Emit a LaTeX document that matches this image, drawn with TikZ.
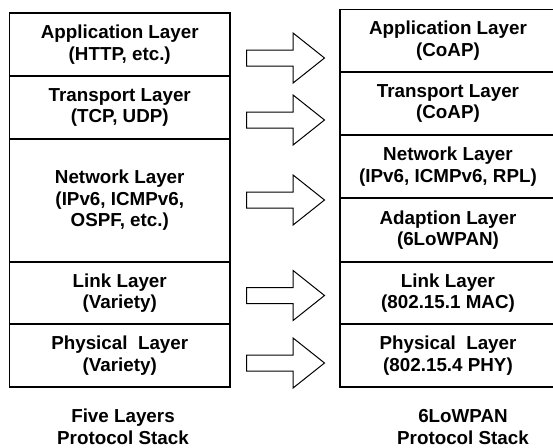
\documentclass[tikz,border=0pt]{standalone}
\usepackage{fontspec}
\setmainfont{Liberation Sans}
\usetikzlibrary{shapes,positioning}

\tikzset{
	layer/.style={draw, line width=1.2pt, inner sep=0pt, align=center, font=\bfseries\fontsize{18.8}{21.5}\selectfont},
	stack5/.style={layer, minimum width=220.5pt},
	stack6/.style={layer, minimum width=216pt},
	caption/.style={align=center, font=\bfseries\fontsize{18.8}{21.5}\selectfont},
	blockarrow/.style={draw, line width=1pt, shape=single arrow, anchor=tail, inner xsep=0pt, inner ysep=7.5pt, minimum height=78pt, single arrow head extend=17pt, single arrow tip angle=77}
}

\begin{document}
\begin{tikzpicture}[x=1pt, y=-1pt]
	\useasboundingbox (0,0) rectangle (553,447);
	% five layers stack
	\node (app5) [stack5, minimum height=63pt] at (119.75,44.5) {Application Layer\\(HTTP, etc.)};
	\node (trans5) [stack5, minimum height=63pt] at (119.75,107.5) {Transport Layer\\(TCP, UDP)};
	\node (net5) [stack5, minimum height=123pt] at (119.75,200.5) {Network Layer\\(IPv6, ICMPv6,\\OSPF, etc.)};
	\node (link5) [stack5, minimum height=62pt] at (119.75,293) {Link Layer\\(Variety)};
	\node (phy5) [stack5, minimum height=63pt] at (119.75,355.5) {Physical\ \ Layer\\(Variety)};
	% 6LoWPAN stack
	\node (app6) [stack6, minimum height=62.5pt] at (448,40.75) {Application Layer\\(CoAP)};
	\node (trans6) [stack6, minimum height=63pt] at (448,103.5) {Transport Layer\\(CoAP)};
	\node (net6) [stack6, minimum height=63pt] at (448,166.5) {Network Layer\\(IPv6, ICMPv6, RPL)};
	\node (adapt6) [stack6, minimum height=64pt] at (448,230) {Adaption Layer\\(6LoWPAN)};
	\node (link6) [stack6, minimum height=62pt] at (448,293) {Link Layer\\(802.15.1 MAC)};
	\node (phy6) [stack6, minimum height=63pt] at (448,355.5) {Physical\ \ Layer\\(802.15.4 PHY)};
	% arrows between the stacks
	\foreach \y [count=\i] in {58,120,200,295.5,363}
		\node (arr\i) [blockarrow] at (246,\y) {};
	% captions
	\node (cap5) [caption] at (123,427) {Five Layers\\Protocol Stack};
	\node (cap6) [caption] at (463,427) {6LoWPAN\\Protocol Stack};
\end{tikzpicture}
\end{document}
